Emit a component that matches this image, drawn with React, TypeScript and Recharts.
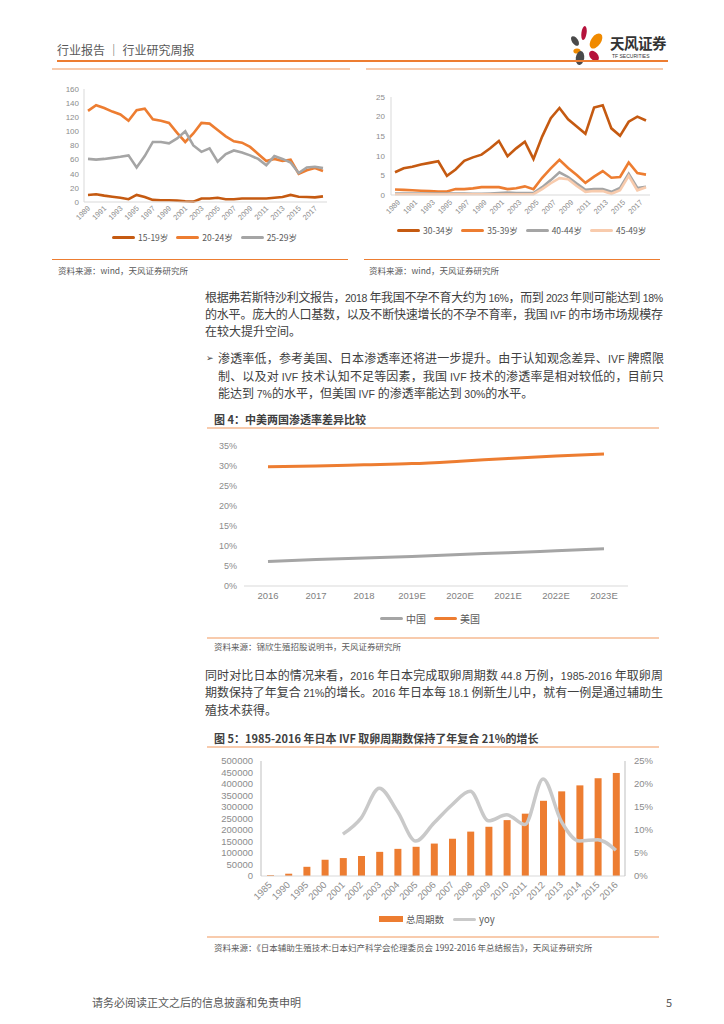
import React from 'react'
import { LineChart, Line, XAxis, YAxis, ComposedChart, Bar } from 'recharts'

const FONT = '"Noto Sans CJK SC", "Liberation Sans", sans-serif'
const NUM = '"Liberation Sans", "Noto Sans CJK SC", sans-serif'

const ORANGE = '#ED7D31'
const DARK_ORANGE = '#C55A11'
const GRAY = '#A5A5A5'
const PEACH = '#F8CBAD'
const AXIS = '#D9D9D9'
const TICK = '#8C8C8C'

// 图3 左：15-29岁生育率
const yearsA = ['1989', '1990', '1991', '1992', '1993', '1994', '1995', '1996', '1997', '1998', '1999', '2000', '2001', '2002', '2003', '2004', '2005', '2006', '2007', '2008', '2009', '2010', '2011', '2012', '2013', '2014', '2015', '2016', '2017', '2018']
const age15_19 = [10, 11, 9, 7.5, 6, 4, 10, 7, 3, 2.5, 2.5, 2, 1, 0.5, 5, 5, 6, 4, 4, 5, 5, 5, 5, 6, 7, 10, 7.5, 7, 6.5, 8]
const age20_24 = [129, 137, 133, 128, 124, 115, 130, 132, 117, 115, 112, 98, 85, 97, 112, 111, 102, 93, 86, 84, 78, 68, 58, 61, 58, 60, 40, 45, 48, 44]
const age25_29 = [61, 60, 61, 62.5, 64, 66, 49, 65, 85, 85, 83, 90, 100, 80, 71, 76, 57, 68, 73, 70, 66, 61, 52, 65, 61, 56, 41, 49, 50, 48]
const ticksA = [0, 20, 40, 60, 80, 100, 120, 140, 160]

// 图3 右：30-49岁生育率
const age30_34 = [5.8, 6.8, 7.2, 7.8, 8.2, 8.6, 4.9, 6.5, 8.7, 9.6, 10.3, 11.9, 13.8, 9.9, 11.9, 13.6, 9.2, 14.9, 19.6, 22.2, 19.3, 17.5, 15.6, 22.3, 22.9, 17, 15.1, 18.7, 20, 19]
const age35_39 = [1.4, 1.3, 1.2, 1.1, 1.0, 0.9, 0.9, 1.5, 1.5, 1.7, 2.0, 2.0, 2.0, 1.5, 1.7, 2.2, 1.5, 4.4, 6.8, 9.0, 6.9, 5.1, 3.1, 4.7, 6.1, 4.4, 4.6, 8.3, 5.6, 5.2]
const age40_44 = [0.4, 0.4, 0.4, 0.4, 0.4, 0.4, 0.4, 0.4, 0.4, 0.3, 0.3, 0.4, 0.5, 0.6, 0.5, 0.5, 0.5, 2.0, 3.8, 5.8, 4.6, 2.9, 1.3, 1.5, 1.5, 0.8, 1.8, 5.4, 1.8, 2.1]
const age45_49 = [0.2, 0.2, 0.2, 0.2, 0.2, 0.2, 0.2, 0.2, 0.2, 0.2, 0.2, 0.2, 0.2, 0.2, 0.2, 0.2, 0.2, 1.5, 3.0, 4.3, 4.0, 2.3, 0.8, 1.0, 1.0, 0.3, 1.2, 4.9, 1.2, 2.0]
const ticksB = [0, 5, 10, 15, 20, 25]

// 图4：中美渗透率
const years4 = ['2016', '2017', '2018', '2019E', '2020E', '2021E', '2022E', '2023E']
const china = [6.1, 6.6, 7.0, 7.4, 7.9, 8.3, 8.8, 9.3]
const usa = [29.8, 30.0, 30.3, 30.6, 31.2, 31.9, 32.5, 33.0]
const ticks4 = [0, 5, 10, 15, 20, 25, 30, 35]

// 图5：日本取卵周期数
const years5 = ['1985', '1990', '1995', '2000', '2001', '2002', '2003', '2004', '2005', '2006', '2007', '2008', '2009', '2010', '2011', '2012', '2013', '2014', '2015', '2016']
const cycles = [4000, 10000, 40000, 71000, 78000, 87000, 105000, 118000, 127000, 141000, 162000, 193000, 214000, 243000, 271000, 327000, 368000, 394000, 425000, 448000]
const yoy = [null, null, null, null, 9.1, 12.6, 19.1, 14.0, 7.6, 11.5, 15.5, 18.4, 12.0, 13.3, 11.2, 21.1, 11.9, 7.6, 7.9, 5.6]
const ticks5L = [0, 50000, 100000, 150000, 200000, 250000, 300000, 350000, 400000, 450000, 500000]
const ticks5R = [0, 5, 10, 15, 20, 25]

const seriesA = [
  { key: '15-19岁', values: age15_19, color: DARK_ORANGE },
  { key: '20-24岁', values: age20_24, color: ORANGE },
  { key: '25-29岁', values: age25_29, color: GRAY },
]
const seriesB = [
  { key: '30-34岁', values: age30_34, color: DARK_ORANGE },
  { key: '35-39岁', values: age35_39, color: ORANGE },
  { key: '40-44岁', values: age40_44, color: GRAY },
  { key: '45-49岁', values: age45_49, color: PEACH },
]

const rowsA = yearsA.map((year, i) => {
  const row: Record<string, any> = { year }
  seriesA.forEach((s) => (row[s.key] = s.values[i]))
  return row
})
const rowsB = yearsA.map((year, i) => {
  const row: Record<string, any> = { year }
  seriesB.forEach((s) => (row[s.key] = s.values[i]))
  return row
})
const rows4 = years4.map((year, i) => ({ year, 中国: china[i], 美国: usa[i] }))
const rows5 = years5.map((year, i) => ({ year, 总周期数: cycles[i], yoy: yoy[i] }))

const rotTick = (dx: number, dy: number, size: number) => (props: any) => {
  const { x, y, payload } = props
  const tx = x + dx
  const ty = y + dy
  return (
    <text
      x={tx}
      y={ty}
      fontSize={size}
      fill={TICK}
      fontFamily={NUM}
      textAnchor="end"
      dominantBaseline="central"
      transform={`rotate(-45 ${tx} ${ty})`}
    >
      {payload.value}
    </text>
  )
}

const LATIN = /([A-Za-z0-9.%\-]+)/

function TextLine({ x, y, w, text, size = 12, color = '#404040', justify = true }: any) {
  const parts = text.split(LATIN)
  return (
    <svg style={{ position: 'absolute', left: x, top: y - 10, overflow: 'visible' }} width={w} height={20}>
      <text
        x={0}
        y={10 + size * 0.38}
        fontSize={size}
        fill={color}
        fontFamily={FONT}
        textLength={justify ? w : undefined}
        lengthAdjust="spacing"
      >
        {parts.map((p: string, i: number) =>
          /^[A-Za-z0-9.%\-]+$/.test(p) ? (
            <tspan key={i} fontFamily={NUM} fontSize={size - 1.5}>
              {p}
            </tspan>
          ) : (
            p
          ),
        )}
      </text>
    </svg>
  )
}

function Label({ x, y, size, color = '#595959', bold = false, children }: any) {
  return (
    <div
      style={{
        position: 'absolute',
        left: x,
        top: y - size,
        lineHeight: `${size * 2}px`,
        fontSize: size,
        color,
        fontWeight: bold ? 700 : 400,
        whiteSpace: 'nowrap',
      }}
    >
      {children}
    </div>
  )
}

function HLine({ x1, x2, y, color, w = 1.5 }: any) {
  return <div style={{ position: 'absolute', left: x1, top: y - w / 2, width: x2 - x1, height: w, background: color }} />
}

function LineLegend({ x, y, items, size, gap = 8 }: any) {
  return (
    <div style={{ position: 'absolute', left: x, top: y - 8, height: 16, display: 'flex', alignItems: 'center', gap }}>
      {items.map((it: any) => (
        <div key={it.key} style={{ display: 'flex', alignItems: 'center', gap: 3 }}>
          {it.bar ? (
            <div style={{ width: 24, height: 6, background: it.color }} />
          ) : (
            <div style={{ width: 23, height: 3, borderRadius: 1.5, background: it.color }} />
          )}
          <span style={{ fontSize: size, color: '#595959', whiteSpace: 'nowrap' }}>{it.key}</span>
        </div>
      ))}
    </div>
  )
}

function Logo() {
  return (
    <div style={{ position: 'absolute', left: 566, top: 22 }}>
      <svg width={44} height={44}>
        <ellipse cx={18} cy={11} rx={2.6} ry={7} fill="#B5123C" transform="rotate(8 18 11)" />
        <ellipse cx={9} cy={19} rx={3} ry={5.5} fill="#4A4A4A" transform="rotate(-35 9 19)" />
        <ellipse cx={30} cy={19} rx={5} ry={8.5} fill="#F08A00" transform="rotate(35 30 19)" />
        <ellipse cx={11} cy={29} rx={3.6} ry={2.6} fill="#F08A00" />
        <ellipse cx={14} cy={36} rx={4.2} ry={7} fill="#4A4A4A" transform="rotate(8 14 36)" />
        <ellipse cx={28} cy={34} rx={4} ry={6} fill="#B5123C" transform="rotate(-40 28 34)" />
      </svg>
      <div style={{ position: 'absolute', left: 44, top: 10, fontSize: 14.5, fontWeight: 700, color: '#333', whiteSpace: 'nowrap', letterSpacing: -0.5 }}>
        天风证券
      </div>
      <div style={{ position: 'absolute', left: 46, top: 31, fontSize: 5, color: '#333', fontFamily: NUM, whiteSpace: 'nowrap' }}>
        TF SECURITIES
      </div>
    </div>
  )
}

function ChartA() {
  return (
    <div style={{ position: 'absolute', left: 40, top: 80 }}>
      <LineChart width={300} height={142} data={rowsA} margin={{ top: 9, right: 13, left: 0, bottom: 0 }}>
        <XAxis
          dataKey="year"
          interval={1}
          height={20}
          tickLine={false}
          tickSize={0}
          tickMargin={0}
          axisLine={{ stroke: AXIS }}
          padding={{ left: 4, right: 4 }}
          tick={rotTick(1, 5, 7.5)}
        />
        <YAxis
          width={44}
          domain={[0, 160]}
          ticks={ticksA}
          interval={0}
          tickLine={false}
          tickSize={0}
          tickMargin={5}
          axisLine={{ stroke: AXIS }}
          tick={{ fontSize: 8, fill: TICK, fontFamily: NUM }}
        />
        {seriesA.map((s) => (
          <Line key={s.key} dataKey={s.key} stroke={s.color} strokeWidth={2.6} dot={false} type="linear" isAnimationActive={false} />
        ))}
      </LineChart>
    </div>
  )
}

function ChartB() {
  return (
    <div style={{ position: 'absolute', left: 360, top: 80 }}>
      <LineChart width={300} height={135} data={rowsB} margin={{ top: 17, right: 10, left: 0, bottom: 0 }}>
        <XAxis
          dataKey="year"
          interval={1}
          height={20}
          tickLine={false}
          tickSize={0}
          tickMargin={0}
          axisLine={{ stroke: AXIS }}
          padding={{ left: 4, right: 4 }}
          tick={rotTick(4, 6, 7.5)}
        />
        <YAxis
          width={31}
          domain={[0, 25]}
          ticks={ticksB}
          interval={0}
          tickLine={false}
          tickSize={0}
          tickMargin={6}
          axisLine={{ stroke: AXIS }}
          tick={{ fontSize: 8, fill: TICK, fontFamily: NUM }}
        />
        {seriesB.map((s) => (
          <Line key={s.key} dataKey={s.key} stroke={s.color} strokeWidth={2.6} dot={false} type="linear" isAnimationActive={false} />
        ))}
      </LineChart>
    </div>
  )
}

function Chart4() {
  return (
    <div style={{ position: 'absolute', left: 200, top: 436 }}>
      <LineChart width={460} height={172} data={rows4} margin={{ top: 10, right: 32, left: 0, bottom: 0 }}>
        <XAxis
          dataKey="year"
          height={22}
          interval={0}
          tickLine={false}
          tickSize={0}
          tickMargin={6}
          axisLine={{ stroke: AXIS }}
          padding={{ left: 24, right: 24 }}
          tick={{ fontSize: 9.5, fill: '#7F7F7F', fontFamily: NUM }}
        />
        <YAxis
          width={44}
          domain={[0, 35]}
          ticks={ticks4}
          interval={0}
          tickFormatter={(v: number) => `${v}%`}
          axisLine={false}
          tickLine={false}
          tickSize={0}
          tickMargin={7}
          tick={{ fontSize: 9, fill: TICK, fontFamily: NUM }}
        />
        <Line dataKey="中国" stroke={GRAY} strokeWidth={3} dot={false} type="monotone" isAnimationActive={false} />
        <Line dataKey="美国" stroke={ORANGE} strokeWidth={3} dot={false} type="monotone" isAnimationActive={false} />
      </LineChart>
    </div>
  )
}

function Chart5() {
  return (
    <div style={{ position: 'absolute', left: 200, top: 750 }}>
      <ComposedChart width={465} height={157} data={rows5} margin={{ top: 11, right: 0, left: 0, bottom: 0 }}>
        <XAxis
          dataKey="year"
          height={31}
          interval={0}
          tickLine={false}
          tickSize={0}
          tickMargin={0}
          axisLine={{ stroke: AXIS }}
          tick={rotTick(0, 7, 9.5)}
        />
        <YAxis
          yAxisId="l"
          width={61}
          domain={[0, 500000]}
          ticks={ticks5L}
          interval={0}
          tickLine={false}
          tickSize={0}
          tickMargin={8}
          axisLine={{ stroke: '#BFBFBF' }}
          tick={{ fontSize: 9.5, fill: TICK, fontFamily: NUM }}
        />
        <YAxis
          yAxisId="r"
          orientation="right"
          width={40}
          domain={[0, 25]}
          ticks={ticks5R}
          interval={0}
          tickFormatter={(v: number) => `${v}%`}
          tickLine={false}
          tickSize={0}
          tickMargin={9}
          axisLine={{ stroke: '#BFBFBF' }}
          tick={{ fontSize: 9.5, fill: TICK, fontFamily: NUM }}
        />
        <Bar yAxisId="l" dataKey="总周期数" fill={ORANGE} barSize={7} isAnimationActive={false} />
        <Line yAxisId="r" dataKey="yoy" stroke="#C9C9C9" strokeWidth={3.5} dot={false} type="monotone" isAnimationActive={false} />
      </ComposedChart>
    </div>
  )
}

export default function App() {
  return (
    <div
      style={{
        position: 'absolute',
        left: 0,
        top: 0,
        width: 724,
        height: 1024,
        background: '#fff',
        fontFamily: FONT,
        overflow: 'hidden',
      }}
    >
      {/* 页眉 */}
      <Label x={57} y={50} size={12} color="#595959">
        行业报告 ｜ 行业研究周报
      </Label>
      <Logo />
      <HLine x1={57} x2={668} y={61} color={ORANGE} w={1.6} />

      {/* 上方两图 */}
      <HLine x1={52} x2={350} y={69} color={PEACH} />
      <HLine x1={366} x2={663} y={69} color={PEACH} />
      <ChartA />
      <ChartB />
      <LineLegend x={112} y={237} size={8.5} items={seriesA} />
      <LineLegend x={397} y={230} size={8.5} items={seriesB} />
      <HLine x1={52} x2={348} y={259} color={ORANGE} w={1} />
      <HLine x1={364} x2={660} y={259} color={ORANGE} w={1} />
      <Label x={58} y={270} size={8.5}>资料来源：wind，天风证券研究所</Label>
      <Label x={369} y={270} size={8.5}>资料来源：wind，天风证券研究所</Label>

      {/* 正文 */}
      <TextLine x={205} y={297} w={458} text="根据弗若斯特沙利文报告，2018 年我国不孕不育大约为 16%，而到 2023 年则可能达到 18%" />
      <TextLine x={205} y={314} w={458} text="的水平。庞大的人口基数，以及不断快速增长的不孕不育率，我国 IVF 的市场市场规模存" />
      <TextLine x={205} y={331} w={458} text="在较大提升空间。" justify={false} />

      <div style={{ position: 'absolute', left: 206, top: 350, fontSize: 9, lineHeight: '16px', fontFamily: '"DejaVu Sans", sans-serif', color: '#404040' }}>➢</div>
      <TextLine x={218} y={358} w={446} text="渗透率低，参考美国、日本渗透率还将进一步提升。由于认知观念差异、IVF 牌照限" />
      <TextLine x={218} y={376} w={446} text="制、以及对 IVF 技术认知不足等因素，我国 IVF 技术的渗透率是相对较低的，目前只" />
      <TextLine x={218} y={393} w={446} text="能达到 7%的水平，但美国 IVF 的渗透率能达到 30%的水平。" justify={false} />

      {/* 图4 */}
      <Label x={214} y={419} size={11} color="#404040" bold>
        图 4：中美两国渗透率差异比较
      </Label>
      <HLine x1={207} x2={659} y={428} color={PEACH} />
      <Chart4 />
      <LineLegend x={380} y={618} size={10} items={[{ key: '中国', color: GRAY }, { key: '美国', color: ORANGE }]} />
      <HLine x1={207} x2={659} y={638} color={PEACH} />
      <Label x={214} y={646} size={8.5}>资料来源：锦欣生殖招股说明书，天风证券研究所</Label>

      <TextLine x={205} y={675} w={458} text="同时对比日本的情况来看，2016 年日本完成取卵周期数 44.8 万例，1985-2016 年取卵周" />
      <TextLine x={205} y={692} w={458} text="期数保持了年复合 21%的增长。2016 年日本每 18.1 例新生儿中，就有一例是通过辅助生" />
      <TextLine x={205} y={710} w={458} text="殖技术获得。" justify={false} />

      {/* 图5 */}
      <Label x={214} y={738} size={11} color="#404040" bold>
        图 5：1985-2016 年日本 IVF 取卵周期数保持了年复合 21%的增长
      </Label>
      <HLine x1={207} x2={659} y={747} color={PEACH} />
      <Chart5 />
      <LineLegend
        x={379}
        y={919}
        size={9.5}
        gap={9}
        items={[
          { key: '总周期数', color: ORANGE, bar: true },
          { key: 'yoy', color: '#C9C9C9' },
        ]}
      />
      <HLine x1={207} x2={659} y={937} color={PEACH} />
      <Label x={214} y={947} size={8.5}>
        资料来源：《日本辅助生殖技术:日本妇产科学会伦理委员会 1992-2016 年总结报告》，天风证券研究所
      </Label>

      {/* 页脚 */}
      <Label x={92} y={1002} size={11} color="#595959">请务必阅读正文之后的信息披露和免责申明</Label>
      <Label x={666} y={1002} size={11} color="#595959">5</Label>
    </div>
  )
}
